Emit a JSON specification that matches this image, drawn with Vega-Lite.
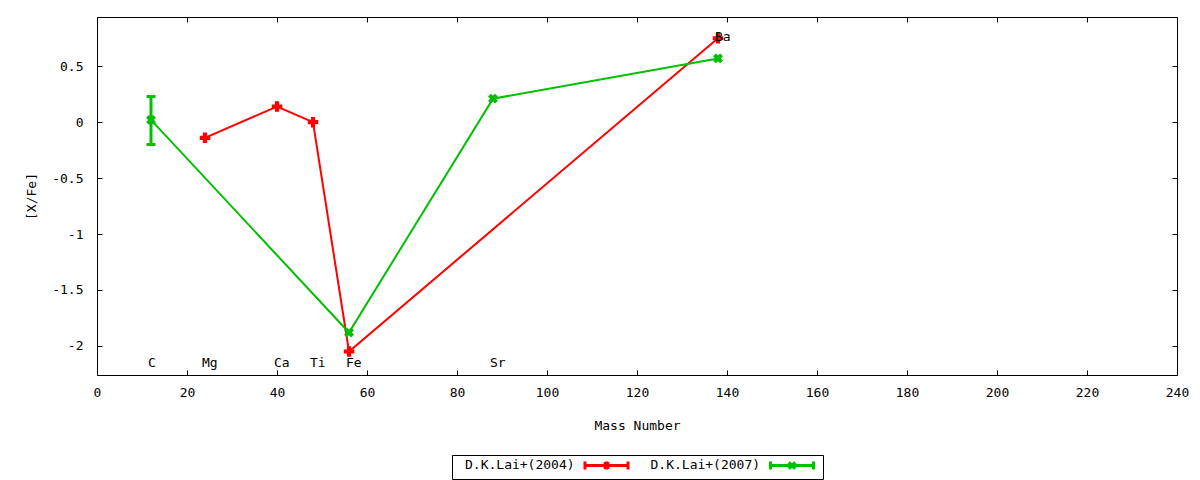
{
  "$schema": "https://vega.github.io/schema/vega-lite/v6.json",
  "width": 1080,
  "height": 358,
  "autosize": {"type": "none"},
  "padding": {"left": 97, "top": 17, "right": 23, "bottom": 105},
  "background": "white",
  "config": {
    "font": "DejaVu Sans Mono",
    "view": {"stroke": "black", "strokeWidth": 1},
    "axis": {
      "domain": false,
      "grid": false,
      "tickSize": -5,
      "tickColor": "black",
      "tickWidth": 1,
      "labelFont": "DejaVu Sans Mono",
      "labelFontSize": 13,
      "labelColor": "black",
      "titleFont": "DejaVu Sans Mono",
      "titleFontSize": 13,
      "titleFontWeight": "normal",
      "titleColor": "black"
    }
  },
  "datasets": {
    "pts": [
      {"series": "D.K.Lai+(2004)", "el": "Mg", "mass": 24, "val": -0.14},
      {"series": "D.K.Lai+(2004)", "el": "Ca", "mass": 40, "val": 0.14},
      {"series": "D.K.Lai+(2004)", "el": "Ti", "mass": 48, "val": 0.0},
      {"series": "D.K.Lai+(2004)", "el": "Fe", "mass": 56, "val": -2.05},
      {"series": "D.K.Lai+(2004)", "el": "Ba", "mass": 138, "val": 0.75},
      {"series": "D.K.Lai+(2007)", "el": "C", "mass": 12, "val": 0.02, "lo": -0.2, "hi": 0.23},
      {"series": "D.K.Lai+(2007)", "el": "Fe", "mass": 56, "val": -1.88},
      {"series": "D.K.Lai+(2007)", "el": "Sr", "mass": 88, "val": 0.21},
      {"series": "D.K.Lai+(2007)", "el": "Ba", "mass": 138, "val": 0.57}
    ],
    "labels": [
      {"el": "C", "mass": 12, "ly": -2.15},
      {"el": "Mg", "mass": 24, "ly": -2.15},
      {"el": "Ca", "mass": 40, "ly": -2.15},
      {"el": "Ti", "mass": 48, "ly": -2.15},
      {"el": "Fe", "mass": 56, "ly": -2.15},
      {"el": "Sr", "mass": 88, "ly": -2.15},
      {"el": "Ba", "mass": 138, "ly": 0.76}
    ]
  },
  "resolve": {"axis": {"x": "independent", "y": "independent"}},
  "layer": [
    {
      "data": {"name": "pts"},
      "mark": {"type": "line", "strokeWidth": 2},
      "encoding": {
        "x": {
          "field": "mass", "type": "quantitative",
          "scale": {"domain": [0, 240], "nice": false, "zero": false},
          "axis": {"orient": "bottom", "values": [0, 20, 40, 60, 80, 100, 120, 140, 160, 180, 200, 220, 240], "title": "Mass Number", "labelPadding": 16, "titlePadding": 20, "labelFlush": false}
        },
        "y": {
          "field": "val", "type": "quantitative",
          "scale": {"domain": [-2.26, 0.94], "nice": false, "zero": false},
          "axis": {"orient": "left", "values": [-2, -1.5, -1, -0.5, 0, 0.5], "labelExpr": "'' + datum.value", "title": "[X/Fe]", "labelPadding": 19, "titlePadding": 13}
        },
        "color": {
          "field": "series", "type": "nominal",
          "scale": {"domain": ["D.K.Lai+(2004)", "D.K.Lai+(2007)"], "range": ["#ff0000", "#00c000"]},
          "legend": {
            "orient": "none",
            "legendX": 355,
            "legendY": 438,
            "direction": "horizontal",
            "title": null,
            "strokeColor": "black",
            "padding": 3,
            "symbolSize": 121,
            "symbolStrokeWidth": 3,
            "symbolOffset": 144.5,
            "labelOffset": -148.5,
            "columnPadding": 5.5,
            "labelFont": "DejaVu Sans Mono",
            "labelFontSize": 13,
            "labelColor": "black",
            "encode": {
              "symbols": {
                "update": {
                  "shape": {"signal": "datum.value === 'D.K.Lai+(2004)' ? 'M-3.91,0L3.91,0M-3.91,-0.73L-3.91,0.73M3.91,-0.73L3.91,0.73M0,-0.73L0,0.73M-0.25,-0.65L-0.25,0.65M0.25,-0.65L0.25,0.65' : 'M-3.91,0L3.91,0M-3.91,-0.73L-3.91,0.73M3.91,-0.73L3.91,0.73M-0.6,-0.6L0.6,0.6M-0.6,0.6L0.6,-0.6M0,-0.5L0,0.5'"},
                  "fill": {"value": "transparent"},
                  "stroke": {"scale": "color", "field": "value"},
                  "strokeWidth": {"value": 3},
                  "size": {"value": 121}
                }
              }
            }
          }
        }
      }
    },
    {
      "data": {"name": "pts"},
      "transform": [{"filter": "isValid(datum.lo)"}],
      "mark": {"type": "rule", "color": "#00c000", "strokeWidth": 3},
      "encoding": {
        "x": {"field": "mass", "type": "quantitative", "axis": null},
        "y": {"field": "lo", "type": "quantitative", "axis": null},
        "y2": {"field": "hi"}
      }
    },
    {
      "data": {"name": "pts"},
      "transform": [{"filter": "isValid(datum.lo)"}],
      "mark": {"type": "tick", "orient": "horizontal", "color": "#00c000", "size": 9, "thickness": 3, "opacity": 1},
      "encoding": {
        "x": {"field": "mass", "type": "quantitative", "axis": null},
        "y": {"field": "lo", "type": "quantitative", "axis": null}
      }
    },
    {
      "data": {"name": "pts"},
      "transform": [{"filter": "isValid(datum.hi)"}],
      "mark": {"type": "tick", "orient": "horizontal", "color": "#00c000", "size": 9, "thickness": 3, "opacity": 1},
      "encoding": {
        "x": {"field": "mass", "type": "quantitative", "axis": null},
        "y": {"field": "hi", "type": "quantitative", "axis": null}
      }
    },
    {
      "data": {"name": "pts"},
      "transform": [{"filter": "datum.series === 'D.K.Lai+(2004)'"}],
      "mark": {"type": "point", "shape": "cross", "filled": true, "color": "#ff0000", "size": 110, "opacity": 1},
      "encoding": {
        "x": {"field": "mass", "type": "quantitative", "axis": null},
        "y": {"field": "val", "type": "quantitative", "axis": null}
      }
    },
    {
      "data": {"name": "pts"},
      "transform": [{"filter": "datum.series === 'D.K.Lai+(2007)'"}],
      "mark": {"type": "point", "shape": "cross", "angle": 45, "filled": true, "color": "#00c000", "size": 100, "opacity": 1},
      "encoding": {
        "x": {"field": "mass", "type": "quantitative", "axis": null},
        "y": {"field": "val", "type": "quantitative", "axis": null}
      }
    },
    {
      "data": {"name": "labels"},
      "mark": {"type": "text", "align": "left", "baseline": "middle", "dx": -3, "fontSize": 13, "font": "DejaVu Sans Mono", "color": "black"},
      "encoding": {
        "x": {"field": "mass", "type": "quantitative", "axis": {"orient": "top", "values": [0, 20, 40, 60, 80, 100, 120, 140, 160, 180, 200, 220, 240], "labels": false, "title": null}},
        "y": {"field": "ly", "type": "quantitative", "axis": {"orient": "right", "values": [-2, -1.5, -1, -0.5, 0, 0.5], "labels": false, "title": null}},
        "text": {"field": "el"}
      }
    }
  ]
}
